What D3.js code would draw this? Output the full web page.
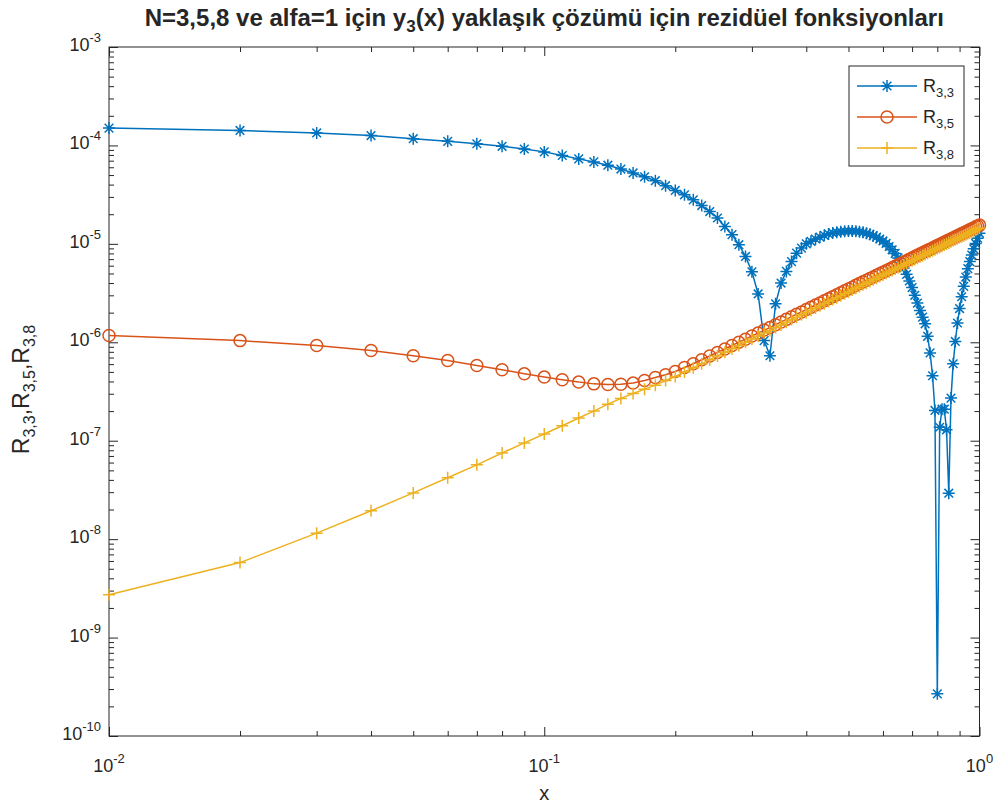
<!DOCTYPE html>
<html>
<head>
<meta charset="utf-8">
<script src="https://cdn.jsdelivr.net/npm/d3@7"></script>
<style>
  body { margin: 0; background: #fff; }
  svg { display: block; }
  text { font-family: "Liberation Sans", Arial, Helvetica, sans-serif; fill: #262626; }
</style>
</head>
<body>
<svg id="chart" width="1000" height="807"></svg>
<script>
// Grid points x = 0.01, 0.02, ..., 1.00
const xValues = d3.range(1, 101).map(k => k / 100);

// Residual R_{3,3}
const r33 = [
  1.50e-4, 1.42e-4, 1.34e-4, 1.26e-4, 1.17e-4, 1.10e-4, 1.04e-4, 9.8e-5, 9.2e-5, 8.6e-5,
  7.9e-5, 7.3e-5, 6.8e-5, 6.3e-5, 5.75e-5, 5.25e-5, 4.8e-5, 4.38e-5, 3.9e-5, 3.49e-5,
  3.15e-5, 2.8e-5, 2.45e-5, 2.13e-5, 1.83e-5, 1.50e-5, 1.24e-5, 9.8e-6, 7.45e-6, 5.2e-6,
  3.1e-6, 1.04e-6, 7.3e-7, 2.46e-6, 4.0e-6, 5.25e-6, 6.6e-6, 8.05e-6, 9.05e-6, 1.0e-5,
  1.06e-5, 1.12e-5, 1.17e-5, 1.22e-5, 1.26e-5, 1.29e-5, 1.31e-5, 1.33e-5, 1.34e-5, 1.35e-5,
  1.35e-5, 1.34e-5, 1.33e-5, 1.31e-5, 1.28e-5, 1.25e-5, 1.21e-5, 1.17e-5, 1.12e-5, 1.07e-5,
  1.01e-5, 9.4e-6, 8.7e-6, 8.0e-6, 7.2e-6, 6.4e-6, 5.7e-6, 4.9e-6, 4.2e-6, 3.6e-6,
  3.0e-6, 2.5e-6, 2.1e-6, 1.8e-6, 1.54e-6, 1.15e-6, 7.8e-7, 4.57e-7, 2.03e-7, 2.68e-10,
  1.37e-7, 2.09e-7, 2.09e-7, 1.29e-7, 2.93e-8, 2.71e-7, 6.05e-7, 1.02e-6, 1.57e-6, 2.2e-6,
  2.9e-6, 3.7e-6, 4.6e-6, 5.6e-6, 6.6e-6, 7.7e-6, 8.9e-6, 1.01e-5, 1.14e-5, 1.28e-5
];

// Residual R_{3,5}
const r35 = [
  1.17e-6, 1.04e-6, 9.27e-7, 8.26e-7, 7.3e-7, 6.53e-7, 5.8e-7, 5.26e-7, 4.78e-7, 4.43e-7,
  4.16e-7, 3.94e-7, 3.78e-7, 3.72e-7, 3.75e-7, 3.85e-7, 4.09e-7, 4.39e-7, 4.68e-7, 5.05e-7,
  5.54e-7, 6.06e-7, 6.65e-7, 7.26e-7, 7.89e-7, 8.54e-7, 9.28e-7, 1.003e-6, 1.075e-6, 1.16e-6,
  1.24e-6, 1.33e-6, 1.41e-6, 1.51e-6, 1.61e-6, 1.71e-6, 1.82e-6, 1.93e-6, 2.03e-6, 2.15e-6,
  2.27e-6, 2.39e-6, 2.51e-6, 2.64e-6, 2.77e-6, 2.91e-6, 3.04e-6, 3.18e-6, 3.33e-6, 3.48e-6,
  3.63e-6, 3.79e-6, 3.95e-6, 4.11e-6, 4.27e-6, 4.44e-6, 4.61e-6, 4.79e-6, 4.98e-6, 5.16e-6,
  5.34e-6, 5.53e-6, 5.72e-6, 5.93e-6, 6.13e-6, 6.33e-6, 6.54e-6, 6.75e-6, 6.97e-6, 7.19e-6,
  7.42e-6, 7.64e-6, 7.88e-6, 8.11e-6, 8.35e-6, 8.59e-6, 8.84e-6, 9.08e-6, 9.34e-6, 9.60e-6,
  9.85e-6, 1.012e-5, 1.039e-5, 1.067e-5, 1.092e-5, 1.12e-5, 1.15e-5, 1.18e-5, 1.21e-5, 1.24e-5,
  1.27e-5, 1.30e-5, 1.33e-5, 1.36e-5, 1.39e-5, 1.42e-5, 1.45e-5, 1.49e-5, 1.52e-5, 1.55e-5
];

// Residual R_{3,8}
const r38 = [
  2.72e-9, 5.78e-9, 1.15e-8, 1.94e-8, 2.95e-8, 4.2e-8, 5.69e-8, 7.5e-8, 9.5e-8, 1.17e-7,
  1.42e-7, 1.7e-7, 2.0e-7, 2.35e-7, 2.69e-7, 3.02e-7, 3.34e-7, 3.67e-7, 4.09e-7, 4.49e-7,
  4.99e-7, 5.51e-7, 6.07e-7, 6.66e-7, 7.27e-7, 7.91e-7, 8.59e-7, 9.29e-7, 1.00e-6, 1.08e-6,
  1.16e-6, 1.24e-6, 1.32e-6, 1.41e-6, 1.50e-6, 1.60e-6, 1.70e-6, 1.80e-6, 1.90e-6, 2.01e-6,
  2.12e-6, 2.23e-6, 2.35e-6, 2.47e-6, 2.59e-6, 2.72e-6, 2.84e-6, 2.97e-6, 3.11e-6, 3.25e-6,
  3.39e-6, 3.54e-6, 3.69e-6, 3.84e-6, 3.99e-6, 4.15e-6, 4.31e-6, 4.48e-6, 4.65e-6, 4.82e-6,
  4.99e-6, 5.17e-6, 5.35e-6, 5.54e-6, 5.73e-6, 5.92e-6, 6.11e-6, 6.31e-6, 6.51e-6, 6.72e-6,
  6.93e-6, 7.14e-6, 7.36e-6, 7.58e-6, 7.80e-6, 8.03e-6, 8.26e-6, 8.49e-6, 8.73e-6, 8.97e-6,
  9.21e-6, 9.46e-6, 9.71e-6, 9.97e-6, 1.02e-5, 1.05e-5, 1.08e-5, 1.10e-5, 1.13e-5, 1.16e-5,
  1.18e-5, 1.21e-5, 1.24e-5, 1.27e-5, 1.30e-5, 1.33e-5, 1.36e-5, 1.39e-5, 1.42e-5, 1.45e-5
];

// Decade exponents used for the tick labels
const xTickExponents = ["-2", "-1", "0"];
const yTickExponents = ["-10", "-9", "-8", "-7", "-6", "-5", "-4", "-3"];

const seriesNames = ["3,3", "3,5", "3,8"];

const svg = d3.select("#chart");
const axisColor = "#262626";
const plot = { left: 109, right: 979.5, top: 47, bottom: 736 };

const x = d3.scaleLog().domain([1e-2, 1]).range([plot.left, plot.right]);
const y = d3.scaleLog().domain([1e-10, 1e-3]).range([plot.bottom, plot.top]);

// Major and minor tick positions on the log axes
const xMajor = xTickExponents.map(e => Math.pow(10, +e));
const yMajor = yTickExponents.map(e => Math.pow(10, +e));
const xMinor = [], yMinor = [];
[-2, -1].forEach(e => { for (let m = 2; m <= 9; m++) xMinor.push(m * Math.pow(10, e)); });
for (let e = -10; e <= -4; e++) for (let m = 2; m <= 9; m++) yMinor.push(m * Math.pow(10, e));

function styleAxis(g) {
  g.select(".domain").remove();
  g.selectAll(".tick line").attr("stroke", axisColor).attr("stroke-width", 1);
  g.selectAll(".tick text").remove();
}

const axes = svg.append("g");
// Bottom and top (ticks pointing inward)
[[d3.axisBottom, plot.bottom], [d3.axisTop, plot.top]].forEach(([fn, pos]) => {
  axes.append("g").attr("transform", `translate(0,${pos})`)
    .call(fn(x).tickValues(xMajor).tickSize(-9).tickFormat("")).call(styleAxis);
  axes.append("g").attr("transform", `translate(0,${pos})`)
    .call(fn(x).tickValues(xMinor).tickSize(-5).tickFormat("")).call(styleAxis);
});
// Left and right
[[d3.axisLeft, plot.left], [d3.axisRight, plot.right]].forEach(([fn, pos]) => {
  axes.append("g").attr("transform", `translate(${pos},0)`)
    .call(fn(y).tickValues(yMajor).tickSize(-9).tickFormat("")).call(styleAxis);
  axes.append("g").attr("transform", `translate(${pos},0)`)
    .call(fn(y).tickValues(yMinor).tickSize(-5).tickFormat("")).call(styleAxis);
});

// Axes box
svg.append("rect")
  .attr("x", plot.left).attr("y", plot.top)
  .attr("width", plot.right - plot.left).attr("height", plot.bottom - plot.top)
  .attr("fill", "none").attr("stroke", axisColor).attr("stroke-width", 1);

// Tick labels of the form 10^n
const tickFont = 18, supFont = 13;
xTickExponents.forEach((e, i) => {
  const t = svg.append("text")
    .attr("x", x(xMajor[i])).attr("y", 772)
    .attr("text-anchor", "middle").attr("font-size", tickFont);
  t.append("tspan").text("10");
  t.append("tspan").attr("dy", -9).attr("font-size", supFont).text(e);
});
yTickExponents.forEach((e, i) => {
  const t = svg.append("text")
    .attr("x", 101).attr("y", y(yMajor[i]) + 4)
    .attr("text-anchor", "end").attr("font-size", tickFont);
  t.append("tspan").text("10");
  t.append("tspan").attr("dy", -9).attr("font-size", supFont).text(e);
});

// Axis labels
svg.append("text")
  .attr("x", (plot.left + plot.right) / 2).attr("y", 800)
  .attr("text-anchor", "middle").attr("font-size", 20).text("x");

const yl = svg.append("text")
  .attr("transform", `translate(29,${(plot.top + plot.bottom) / 2 - 2}) rotate(-90)`)
  .attr("text-anchor", "middle").attr("font-size", 23);
seriesNames.forEach((s, i) => {
  yl.append("tspan").attr("dy", i === 0 ? 0 : -6).attr("font-size", 23).text((i === 0 ? "" : ",") + "R");
  yl.append("tspan").attr("dy", 6).attr("font-size", 16).text(s);
});

// Title
const title = svg.append("text")
  .attr("x", (plot.left + plot.right) / 2).attr("y", 26)
  .attr("text-anchor", "middle").attr("font-size", 24).attr("font-weight", "bold");
title.append("tspan").text("N=3,5,8 ve alfa=1 için y");
title.append("tspan").attr("dy", 6).attr("font-size", 17).text("3");
title.append("tspan").attr("dy", -6).text("(x) yaklaşık çözümü için rezidüel fonksiyonları");

// Marker shapes
const markerPaths = {
  asterisk: s => `M${-s},0H${s}M0,${-s}V${s}M${-s * 0.72},${-s * 0.72}L${s * 0.72},${s * 0.72}M${-s * 0.72},${s * 0.72}L${s * 0.72},${-s * 0.72}`,
  plus: s => `M${-s},0H${s}M0,${-s}V${s}`
};

const series = [
  { name: seriesNames[0], values: r33, color: "#0072BD", marker: "asterisk" },
  { name: seriesNames[1], values: r35, color: "#D95319", marker: "circle" },
  { name: seriesNames[2], values: r38, color: "#EDB120", marker: "plus" }
];

const line = d3.line().x(d => x(d[0])).y(d => y(d[1]));

function drawMarker(g, cx, cy, kind, color) {
  if (kind === "circle") {
    g.append("circle").attr("cx", cx).attr("cy", cy).attr("r", 6)
      .attr("fill", "none").attr("stroke", color).attr("stroke-width", 1.5);
  } else {
    g.append("path").attr("transform", `translate(${cx},${cy})`)
      .attr("d", markerPaths[kind](6))
      .attr("fill", "none").attr("stroke", color).attr("stroke-width", 1.5);
  }
}

series.forEach(s => {
  const pts = xValues.map((xv, i) => [xv, s.values[i]]);
  const g = svg.append("g");
  g.append("path").datum(pts).attr("d", line)
    .attr("fill", "none").attr("stroke", s.color).attr("stroke-width", 1.5);
  pts.forEach(p => drawMarker(g, x(p[0]), y(p[1]), s.marker, s.color));
});

// Legend
const lg = svg.append("g");
lg.append("rect").attr("x", 849).attr("y", 66).attr("width", 115).attr("height", 100)
  .attr("fill", "#fff").attr("stroke", axisColor).attr("stroke-width", 1);
series.forEach((s, i) => {
  const cy = 86 + i * 31;
  lg.append("line").attr("x1", 857).attr("x2", 917).attr("y1", cy).attr("y2", cy)
    .attr("stroke", s.color).attr("stroke-width", 1.5);
  drawMarker(lg, 887, cy, s.marker, s.color);
  const t = lg.append("text").attr("x", 923).attr("y", cy + 6).attr("font-size", 18);
  t.append("tspan").text("R");
  t.append("tspan").attr("dy", 5).attr("font-size", 13).text(s.name);
});
</script>
</body>
</html>
